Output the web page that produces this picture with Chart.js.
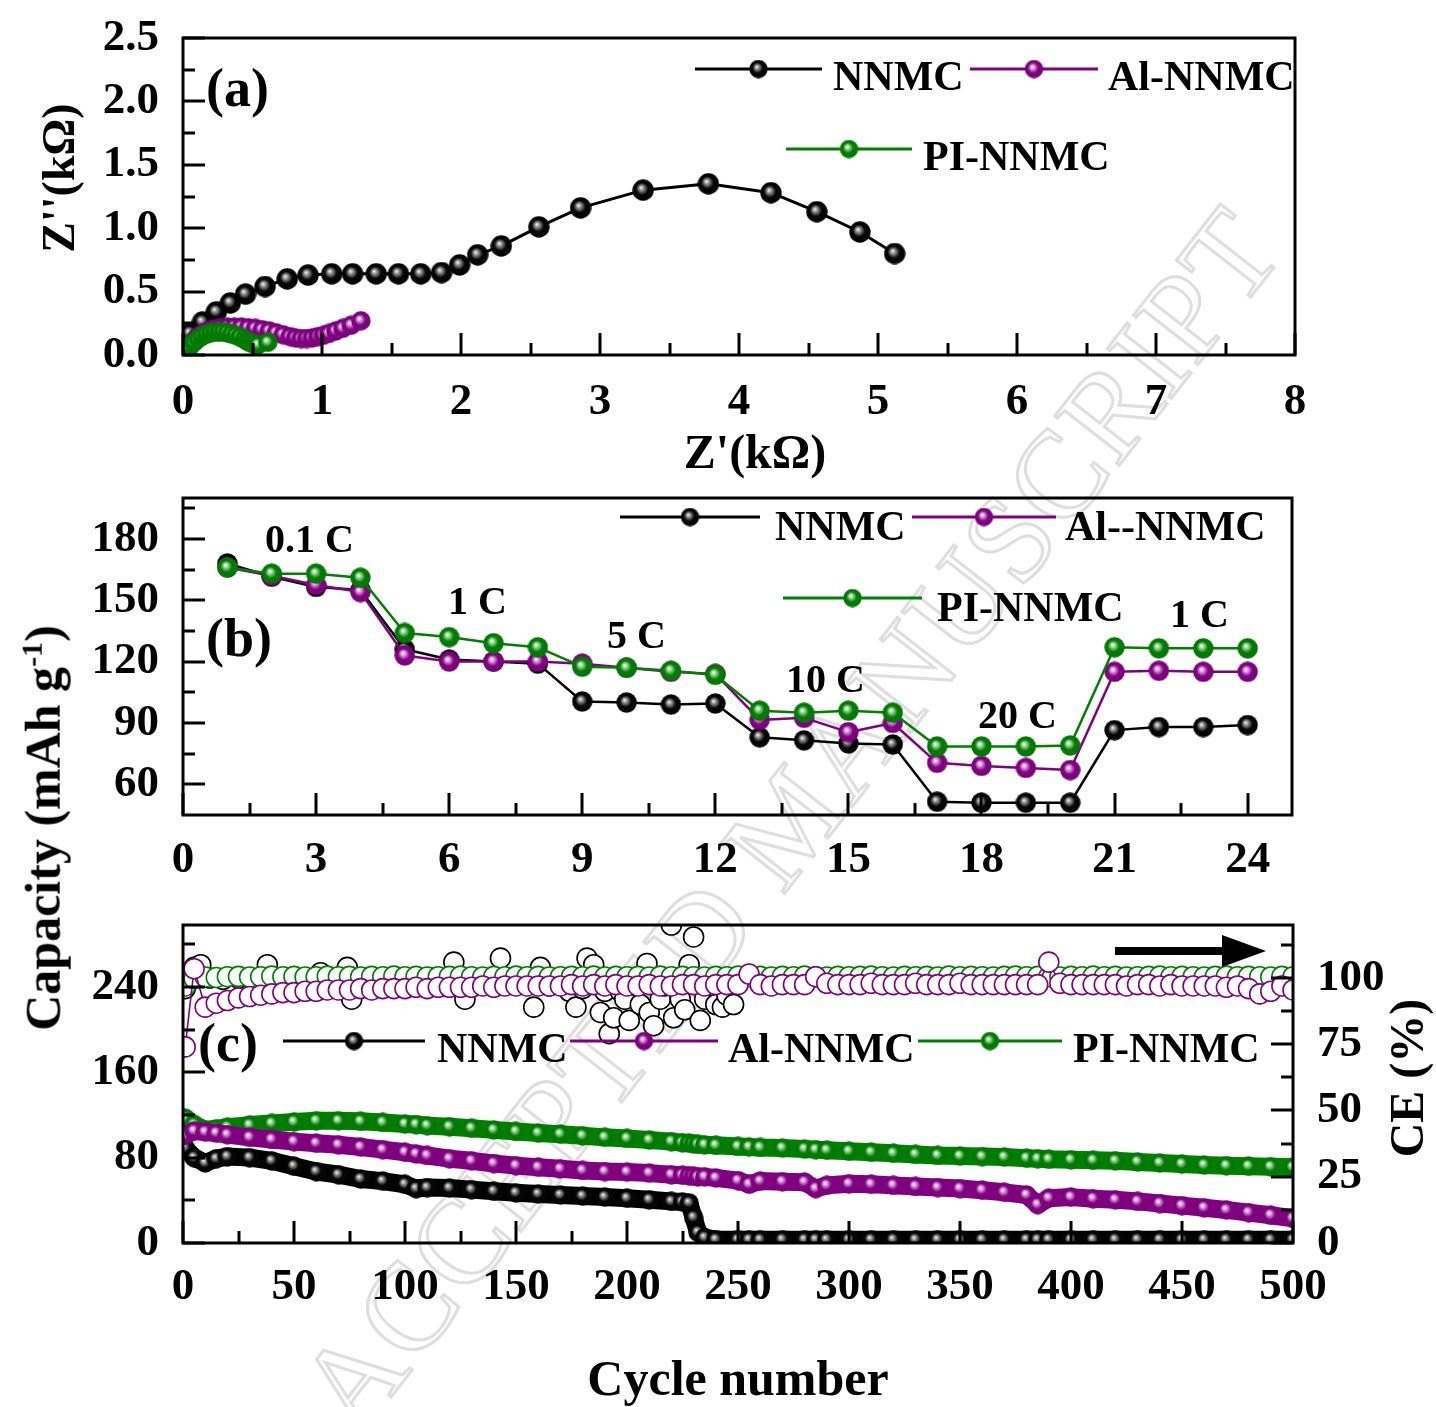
<!DOCTYPE html>
<html>
<head>
<meta charset="utf-8">
<title>NNMC / Al-NNMC / PI-NNMC</title>
<script src="https://cdn.jsdelivr.net/npm/chart.js@4.4.1/dist/chart.umd.min.js"></script>
<style>
  html, body { margin: 0; padding: 0; background: #fff; }
  #page { position: relative; width: 1436px; height: 1407px; overflow: hidden; font-family: 'Liberation Serif', 'Times New Roman', serif; }
  #page canvas { position: absolute; left: 0; }
  #watermark { position: absolute; left: 790px; top: 820px; transform: translate(-50%, -50%) rotate(-52deg);
    font-size: 124px; letter-spacing: 2px; white-space: nowrap; color: transparent; -webkit-text-stroke: 3px #dedede; }
  #capTitle { position: absolute; left: 42px; top: 828px; transform: translate(-50%, -50%) rotate(-90deg);
    font-weight: bold; font-size: 50px; white-space: nowrap; line-height: 1; }
  #capTitle sup { font-size: 30px; }
</style>
</head>
<body>
<div id="page">
  <div id="watermark">ACCEPTED MANUSCRIPT</div>
  <canvas id="chartA" width="1436" height="480" style="top:0"></canvas>
  <canvas id="chartB" width="1436" height="400" style="top:480px"></canvas>
  <canvas id="chartC" width="1436" height="527" style="top:880px"></canvas>
  <div id="capTitle">Capacity (mAh g<sup>-1</sup>)</div>
</div>
<script>
const SERIF = "'Liberation Serif', 'Times New Roman', serif";
const BLACK = '#000000', PURPLE = '#800080', GREEN = '#008000';
const seriesNames = ['NNMC', 'Al-NNMC', 'PI-NNMC'];

// (a) Nyquist plots, Z' / Z'' in kOhm
const aNnmcRe = [0.02, 0.05, 0.14, 0.24, 0.34, 0.45, 0.59, 0.75, 0.90, 1.07, 1.22, 1.39, 1.55, 1.71, 1.86, 1.99, 2.12, 2.29, 2.56, 2.86, 3.31, 3.78, 4.23, 4.56, 4.87, 5.12];
const aNnmcIm = [0.06, 0.17, 0.26, 0.34, 0.41, 0.48, 0.54, 0.60, 0.63, 0.64, 0.64, 0.64, 0.64, 0.64, 0.65, 0.71, 0.79, 0.86, 1.01, 1.16, 1.30, 1.35, 1.28, 1.13, 0.97, 0.80];
const aAlRe = [0.02, 0.04, 0.07, 0.10, 0.14, 0.18, 0.22, 0.27, 0.32, 0.37, 0.42, 0.47, 0.52, 0.57, 0.62, 0.67, 0.72, 0.77, 0.81, 0.85, 0.89, 0.93, 0.97, 1.01, 1.05, 1.10, 1.15, 1.21, 1.28];
const aAlIm = [0.02, 0.06, 0.10, 0.14, 0.17, 0.19, 0.205, 0.215, 0.22, 0.22, 0.22, 0.215, 0.21, 0.20, 0.19, 0.175, 0.16, 0.145, 0.135, 0.13, 0.13, 0.135, 0.145, 0.155, 0.17, 0.19, 0.21, 0.235, 0.27];
const aPiRe = [0.01, 0.03, 0.05, 0.08, 0.11, 0.14, 0.17, 0.20, 0.23, 0.26, 0.29, 0.32, 0.35, 0.38, 0.41, 0.44, 0.46, 0.48, 0.50, 0.52, 0.54, 0.61];
const aPiIm = [0.01, 0.04, 0.07, 0.10, 0.13, 0.15, 0.165, 0.175, 0.18, 0.18, 0.18, 0.175, 0.165, 0.155, 0.14, 0.125, 0.11, 0.10, 0.09, 0.085, 0.08, 0.10];
const aXTicks = [0, 1, 2, 3, 4, 5, 6, 7, 8];
const aXMinor = [0.5, 1.5, 2.5, 3.5, 4.5, 5.5, 6.5, 7.5];
const aYTicks = [0, 0.5, 1, 1.5, 2, 2.5];
const aYMinor = [0.25, 0.75, 1.25, 1.75, 2.25];

// (b) rate capability
const bCycles = [1, 2, 3, 4, 5, 6, 7, 8, 9, 10, 11, 12, 13, 14, 15, 16, 17, 18, 19, 20, 21, 22, 23, 24];
const bNnmc = [168, 161.5, 156.5, 155, 126, 121, 120, 119, 100.5, 100, 99, 99.5, 83, 81.5, 80, 79.5, 51.5, 51, 51, 51, 86.5, 88, 88, 89];
const bAl = [166, 162, 157.5, 154, 123, 120, 120, 120, 119, 117, 115, 114, 91.5, 92.5, 85.5, 90, 70.5, 69, 68, 67, 115, 115.5, 115, 115];
const bPi = [166, 163, 163, 161, 134, 132, 129, 127, 117.5, 117, 115.5, 113.5, 96, 95, 96, 95, 78.5, 78.5, 78.5, 79, 127, 126.5, 126.5, 126.5];
const bRates = ['0.1 C', '1 C', '5 C', '10 C', '20 C', '1 C'];
const bXTicks = [0, 3, 6, 9, 12, 15, 18, 21, 24];
const bXMinor = [1.5, 4.5, 7.5, 10.5, 13.5, 16.5, 19.5, 22.5];
const bYTicks = [60, 90, 120, 150, 180];
const bYMinor = [75, 105, 135, 165, 195];

// (c) long cycling: capacity (left) and coulombic efficiency (right)
const cCycles = [1, 5, 10, 15, 20, 30, 40, 50, 60, 70, 80, 90, 100, 105, 110, 120, 130, 140, 150, 160,
  170, 180, 190, 200, 210, 220, 225, 228, 230, 232, 235, 240, 250, 255, 260, 270, 280, 285, 290, 300,
  310, 320, 330, 340, 350, 360, 370, 380, 385, 390, 400, 410, 420, 430, 440, 450, 460, 470, 480, 490, 500];
const cNnmcCap = [89, 80, 75, 79, 81, 80, 77, 72, 67, 64, 60, 58, 55, 51, 52, 51.5, 50, 48.5, 47, 46,
  45, 44, 43, 42, 40.5, 39, 38.5, 37.5, 24, 10, 5, 3.2, 3.1, 3, 3, 3.1, 3, 3, 3, 3,
  3, 3.1, 3, 3, 3, 3, 3, 3.1, 3, 3, 3, 3, 3, 3.1, 3, 3, 3, 3, 3, 3, 3];
const cAlCap = [101, 105, 104, 103, 101.5, 99, 97, 95, 93.5, 92, 90, 87.5, 85, 83.5, 82, 79, 77, 74.5, 72.5, 71,
  69.5, 68, 67, 66.5, 65.5, 64, 63.5, 63, 62.5, 62, 62, 61, 58.5, 55, 58, 57.5, 57, 51, 54, 55.5,
  55, 54, 53, 52, 51, 49.5, 47.5, 45, 36, 42, 43, 41.5, 40.5, 39, 37, 35, 33, 31, 28.5, 26, 23];
const cPiCap = [117, 111, 106, 107, 108.5, 110.5, 112, 113.5, 114.5, 114.5, 114, 113, 111.5, 111, 110, 109, 107.5, 106, 104.5, 103,
  102, 100.5, 99, 98, 96.5, 95, 94, 93.5, 93, 92.5, 92, 91.5, 90.5, 90, 89.5, 89, 88, 87.5, 87, 86,
  85, 84, 83, 82, 81.5, 81, 80.5, 79.5, 79, 78.5, 78, 77.5, 77, 76, 75, 74, 73, 72.5, 72, 71.5, 71];
const ceCycles = [1, 5, 10, 15, 20, 25, 30, 35, 40, 45, 50, 55, 60, 65, 70, 75, 80, 85, 90, 95,
  100, 105, 110, 115, 120, 125, 130, 135, 140, 145, 150, 155, 160, 165, 170, 175, 180, 185, 190, 195,
  200, 205, 210, 215, 220, 225, 230, 235, 240, 245, 250, 255, 260, 265, 270, 275, 280, 285, 290, 295,
  300, 305, 310, 315, 320, 325, 330, 335, 340, 345, 350, 355, 360, 365, 370, 375, 380, 385, 390, 395,
  400, 405, 410, 415, 420, 425, 430, 435, 440, 445, 450, 455, 460, 465, 470, 475, 480, 485, 490, 495, 500];
const cPiCe = [97.0, 99.8, 100.4, 100.2, 100.5, 100.6, 100.4, 100.5, 100.7, 100.5,
  100.6, 100.4, 100.5, 100.7, 100.5, 100.6, 100.4, 100.6, 100.5, 100.7,
  100.5, 100.6, 100.4, 100.5, 100.6, 100.7, 100.5, 100.4, 100.6, 100.5,
  100.7, 100.5, 100.6, 100.4, 100.5, 100.6, 100.5, 100.7, 100.4, 100.6,
  100.5, 100.6, 100.4, 100.7, 100.5, 100.6, 100.5, 100.4, 100.6, 100.5,
  100.7, 100.5, 100.6, 100.4, 100.6, 100.5, 100.7, 100.5, 100.4, 100.6,
  100.5, 100.6, 100.7, 100.5, 100.4, 100.6, 100.5, 100.6, 100.4, 100.7,
  100.5, 100.6, 100.5, 100.4, 100.6, 100.7, 100.5, 100.6, 100.5, 100.4,
  100.6, 100.5, 100.7, 100.5, 100.6, 100.4, 100.5, 100.6, 100.7, 100.5,
  100.6, 100.5, 100.4, 100.6, 100.7, 100.5, 100.6, 100.5, 100.4, 100.6, 100.5];
const cAlCe = [74, 103.5, 89, 90.5, 91.5, 92.5, 93, 93.5, 94, 94.5,
  94.5, 95, 95, 95.5, 95.5, 95.5, 96, 95.5, 96, 96,
  96, 96.5, 96, 96.5, 96.5, 96.5, 96.5, 97, 96.5, 97,
  97, 97, 97, 97, 97, 97.5, 97, 97.5, 97, 97.5,
  97, 97, 97.5, 97, 97, 97.5, 97.5, 97, 97.5, 97.5,
  97.5, 101.5, 97.5, 97, 97.5, 97.5, 97.5, 100.5, 98, 97.5,
  97.5, 97.5, 98, 97.5, 97.5, 97.5, 98, 97.5, 97.5, 97.5,
  98, 97.5, 97.5, 97.5, 97.5, 97.5, 97.5, 97.5, 106, 98,
  97.5, 97.5, 97.5, 97.5, 97.5, 97, 97.5, 97.5, 97, 97.5,
  97, 97, 97, 97, 96.5, 97, 96, 94, 95, 97, 95.5];
const ceNnmcCycles = [1, 5, 8, 12, 18, 25, 32, 38, 45, 52, 60, 62, 68, 74, 76, 82, 90, 98, 105, 112,
  118, 122, 127, 133, 139, 143, 149, 155, 158, 161, 165, 170, 174, 177, 180, 182, 185, 188, 190, 192,
  194, 197, 199, 201, 204, 206, 209, 210, 212, 215, 217, 220, 221, 224, 226, 228, 230, 233, 235, 238,
  240, 243, 245, 248];
const cNnmcCe = [96, 104, 105, 100, 99.5, 100, 99.5, 105, 100, 99.5, 100, 102, 100, 104, 92, 100, 99.5, 100, 99.5, 100,
  99, 106, 92, 99.5, 100, 107.5, 99, 98, 89, 104, 97, 98, 95, 89, 96, 107.5, 105, 87, 95, 79,
  85, 95, 92, 84, 97, 90, 105.5, 87, 82, 92, 97, 120, 85, 92, 88, 105, 115.5, 84, 92, 97,
  90, 89, 93.5, 90];
const cXTicks = [0, 50, 100, 150, 200, 250, 300, 350, 400, 450, 500];
const cXMinor = [25, 75, 125, 175, 225, 275, 325, 375, 425, 475];
const cYTicks = [0, 80, 160, 240];
const cYMinor = [40, 120, 200, 280];
const cY2Ticks = [0, 25, 50, 75, 100];
const cY2Minor = [12.5, 37.5, 62.5, 87.5, 112.5];

// shaded sphere markers like the original plot symbols
function ball(d, base, mid) {
  const c = document.createElement('canvas');
  c.width = c.height = d;
  const g = c.getContext('2d');
  const r = d / 2;
  const grd = g.createRadialGradient(r * 0.8, r * 0.75, 0, r, r, r);
  grd.addColorStop(0, '#ffffff');
  grd.addColorStop(0.2, mid);
  grd.addColorStop(0.55, base);
  grd.addColorStop(1, base);
  g.fillStyle = grd;
  g.beginPath();
  g.arc(r, r, r - 0.3, 0, Math.PI * 2);
  g.fill();
  return c;
}
const balls = {
  black: d => ball(d, '#050505', '#9c9c9c'),
  purple: d => ball(d, '#7e007e', '#e0a6e0'),
  green: d => ball(d, '#007a00', '#a6dca6')
};

const pts = (xs, ys) => xs.map((x, i) => ({ x: x, y: ys[i] }));

// box frame + inward ticks
const frame = {
  id: 'frame',
  afterDatasetsDraw(chart, args, o) {
    const { ctx, chartArea: a, scales } = chart;
    ctx.save();
    ctx.strokeStyle = '#000';
    ctx.lineWidth = 3;
    ctx.strokeRect(a.left, a.top, a.right - a.left, a.bottom - a.top);
    ctx.beginPath();
    const mark = (id, vals, len) => {
      const s = scales[id];
      vals.forEach(v => {
        const p = Math.round(s.getPixelForValue(v));
        if (id === 'x') { ctx.moveTo(p, a.bottom); ctx.lineTo(p, a.bottom - len); }
        else if (id === 'y') { ctx.moveTo(a.left, p); ctx.lineTo(a.left + len, p); }
        else { ctx.moveTo(a.right, p); ctx.lineTo(a.right - len, p); }
      });
    };
    Object.keys(o.ticks).forEach(id => {
      mark(id, o.ticks[id][0], 22);
      mark(id, o.ticks[id][1], 12);
    });
    ctx.stroke();
    ctx.restore();
  }
};

// panel labels, legends, axis titles, arrow
const decor = {
  id: 'decor',
  afterDraw(chart, args, o) {
    const ctx = chart.ctx;
    ctx.save();
    ctx.fillStyle = '#000';
    (o.legend || []).forEach(l => {
      ctx.strokeStyle = l.color;
      ctx.lineWidth = 3;
      ctx.beginPath();
      ctx.moveTo(l.x1, l.y);
      ctx.lineTo(l.x2, l.y);
      ctx.stroke();
      const b = l.ball;
      ctx.drawImage(b, (l.x1 + l.x2) / 2 - b.width / 2, l.y - b.height / 2);
      ctx.font = 'bold 42px ' + SERIF;
      ctx.textAlign = 'left';
      ctx.textBaseline = 'alphabetic';
      ctx.fillText(l.label, l.tx, l.ty);
    });
    (o.texts || []).forEach(t => {
      ctx.save();
      ctx.font = 'bold ' + t.size + 'px ' + SERIF;
      ctx.textAlign = t.align || 'left';
      ctx.textBaseline = t.base || 'alphabetic';
      ctx.translate(t.x, t.y);
      if (t.rot) ctx.rotate(t.rot);
      ctx.fillText(t.t, 0, 0);
      ctx.restore();
    });
    if (o.arrow) {
      const w = o.arrow;
      ctx.fillRect(w.x1, w.y - 4, w.x2 - w.x1, 8);
      ctx.beginPath();
      ctx.moveTo(w.x2 - 4, w.y - 16);
      ctx.lineTo(w.x3, w.y);
      ctx.lineTo(w.x2 - 4, w.y + 16);
      ctx.closePath();
      ctx.fill();
    }
    ctx.restore();
  }
};

const tickFont = { family: SERIF, weight: 'bold', size: 45 };
function xScale(min, max, ticks, height, pad, fmt) {
  return {
    type: 'linear', min: min, max: max,
    grid: { display: false, drawTicks: false }, border: { display: false },
    ticks: { font: tickFont, color: '#000', padding: pad, autoSkip: false, maxRotation: 0, callback: fmt || (v => String(v)) },
    afterBuildTicks: s => { s.ticks = ticks.map(v => ({ value: v })); },
    afterFit: s => { s.height = height; s.paddingLeft = 0; s.paddingRight = 0; }
  };
}
function yScale(min, max, ticks, width, pos, fmt) {
  return {
    type: 'linear', min: min, max: max, position: pos,
    grid: { display: false, drawTicks: false }, border: { display: false },
    ticks: { font: tickFont, color: '#000', padding: 24, autoSkip: false, callback: fmt || (v => String(v)) },
    afterBuildTicks: s => { s.ticks = ticks.map(v => ({ value: v })); },
    afterFit: s => { s.width = width; s.paddingTop = 0; s.paddingBottom = 0; }
  };
}
function ballSeries(label, data, color, img, order, lw) {
  return {
    label: label, data: data, showLine: true, borderColor: color, backgroundColor: color,
    borderWidth: lw, pointStyle: img, pointRadius: 10, order: order, clip: 0,
    borderJoinStyle: 'round', borderCapStyle: 'round'
  };
}
function ringSeries(label, data, color, order, line) {
  return {
    label: label, data: data, yAxisID: 'y2', showLine: line, borderColor: color, borderWidth: 1.6,
    pointStyle: 'circle', pointRadius: 10, pointBackgroundColor: '#ffffff', pointBorderColor: color,
    pointBorderWidth: 1.6, order: order, clip: 0
  };
}
const base = { responsive: false, animation: false, events: [] };

// ---- (a)
new Chart(document.getElementById('chartA'), {
  type: 'scatter',
  data: {
    datasets: [
      ballSeries(seriesNames[0], pts(aNnmcRe, aNnmcIm), BLACK, balls.black(22), 3, 3),
      ballSeries(seriesNames[1], pts(aAlRe, aAlIm), PURPLE, balls.purple(20), 2, 2.5),
      ballSeries(seriesNames[2], pts(aPiRe, aPiIm), GREEN, balls.green(20), 1, 2.5)
    ]
  },
  options: Object.assign({}, base, {
    layout: { padding: { top: 38, right: 141, left: 0, bottom: 0 } },
    plugins: {
      legend: { display: false }, tooltip: { enabled: false },
      frame: { ticks: { x: [aXTicks, aXMinor], y: [aYTicks, aYMinor] } },
      decor: {
        legend: [
          { label: seriesNames[0], color: BLACK, ball: balls.black(19), x1: 695, x2: 822, y: 69, tx: 833, ty: 90 },
          { label: seriesNames[1], color: PURPLE, ball: balls.purple(19), x1: 970, x2: 1098, y: 69, tx: 1108, ty: 90 },
          { label: seriesNames[2], color: GREEN, ball: balls.green(19), x1: 786, x2: 912, y: 149, tx: 923, ty: 170 }
        ],
        texts: [
          { t: '(a)', x: 206, y: 106, size: 54 },
          { t: "Z''(k\u03A9)", x: 62, y: 178, size: 46, align: 'center', base: 'middle', rot: -Math.PI / 2 },
          { t: "Z'(k\u03A9)", x: 755, y: 468, size: 48, align: 'center' }
        ]
      }
    },
    scales: {
      x: xScale(0, 8, aXTicks, 125, 20),
      y: yScale(0, 2.5, aYTicks, 183, 'left', v => v.toFixed(1))
    }
  }),
  plugins: [frame, decor]
});

// ---- (b)
new Chart(document.getElementById('chartB'), {
  type: 'scatter',
  data: {
    datasets: [
      ballSeries(seriesNames[0], pts(bCycles, bNnmc), BLACK, balls.black(21), 3, 2.5),
      ballSeries('Al--NNMC', pts(bCycles, bAl), PURPLE, balls.purple(21), 2, 2.5),
      ballSeries(seriesNames[2], pts(bCycles, bPi), GREEN, balls.green(21), 1, 2.5)
    ]
  },
  options: Object.assign({}, base, {
    layout: { padding: { top: 18, right: 144, left: 0, bottom: 0 } },
    plugins: {
      legend: { display: false }, tooltip: { enabled: false },
      frame: { ticks: { x: [bXTicks, bXMinor], y: [bYTicks, bYMinor] } },
      decor: {
        legend: [
          { label: seriesNames[0], color: BLACK, ball: balls.black(19), x1: 620, x2: 760, y: 37, tx: 775, ty: 60 },
          { label: 'Al--NNMC', color: PURPLE, ball: balls.purple(19), x1: 912, x2: 1056, y: 37, tx: 1065, ty: 60 },
          { label: seriesNames[2], color: GREEN, ball: balls.green(19), x1: 783, x2: 922, y: 118, tx: 937, ty: 141 }
        ],
        texts: [
          { t: '(b)', x: 206, y: 176, size: 54 },
          { t: bRates[0], x: 265, y: 72, size: 40 },
          { t: bRates[1], x: 448, y: 134, size: 40 },
          { t: bRates[2], x: 607, y: 168, size: 40 },
          { t: bRates[3], x: 786, y: 212, size: 40 },
          { t: bRates[4], x: 978, y: 248, size: 40 },
          { t: bRates[5], x: 1170, y: 147, size: 40 }
        ]
      }
    },
    scales: {
      x: xScale(0, 25, bXTicks, 65, 18),
      y: yScale(45, 200, bYTicks, 183, 'left')
    }
  }),
  plugins: [frame, decor]
});

// ---- (c)
new Chart(document.getElementById('chartC'), {
  type: 'scatter',
  data: {
    datasets: [
      ballSeries(seriesNames[0], pts(cCycles, cNnmcCap), BLACK, balls.black(20), 6, 18),
      ballSeries(seriesNames[2], pts(cCycles, cPiCap), GREEN, balls.green(20), 5, 18),
      ballSeries(seriesNames[1], pts(cCycles, cAlCap), PURPLE, balls.purple(20), 4, 18),
      ringSeries(seriesNames[0] + ' CE', pts(ceNnmcCycles, cNnmcCe), BLACK, 3, false),
      ringSeries(seriesNames[2] + ' CE', pts(ceCycles, cPiCe), GREEN, 2, true),
      ringSeries(seriesNames[1] + ' CE', pts(ceCycles, cAlCe), PURPLE, 1, true)
    ]
  },
  options: Object.assign({}, base, {
    layout: { padding: { top: 45, right: 0, left: 0, bottom: 0 } },
    plugins: {
      legend: { display: false }, tooltip: { enabled: false },
      frame: { ticks: { x: [cXTicks, cXMinor], y: [cYTicks, cYMinor], y2: [cY2Ticks, cY2Minor] } },
      decor: {
        legend: [
          { label: seriesNames[0], color: BLACK, ball: balls.black(19), x1: 283, x2: 425, y: 161, tx: 437, ty: 182 },
          { label: seriesNames[1], color: PURPLE, ball: balls.purple(19), x1: 570, x2: 718, y: 161, tx: 728, ty: 182 },
          { label: seriesNames[2], color: GREEN, ball: balls.green(19), x1: 918, x2: 1062, y: 161, tx: 1073, ty: 182 }
        ],
        texts: [
          { t: '(c)', x: 198, y: 181, size: 54 },
          { t: 'CE (%)', x: 1411, y: 198, size: 48, align: 'center', base: 'middle', rot: -Math.PI / 2 },
          { t: 'Cycle number', x: 738, y: 515, size: 50, align: 'center' }
        ],
        arrow: { x1: 1115, x2: 1226, x3: 1266, y: 71 }
      }
    },
    scales: {
      x: xScale(0, 500, cXTicks, 164, 17),
      y: yScale(0, 298, cYTicks, 183, 'left'),
      y2: yScale(0, 120, cY2Ticks, 143, 'right')
    }
  }),
  plugins: [frame, decor]
});
</script>
</body>
</html>
